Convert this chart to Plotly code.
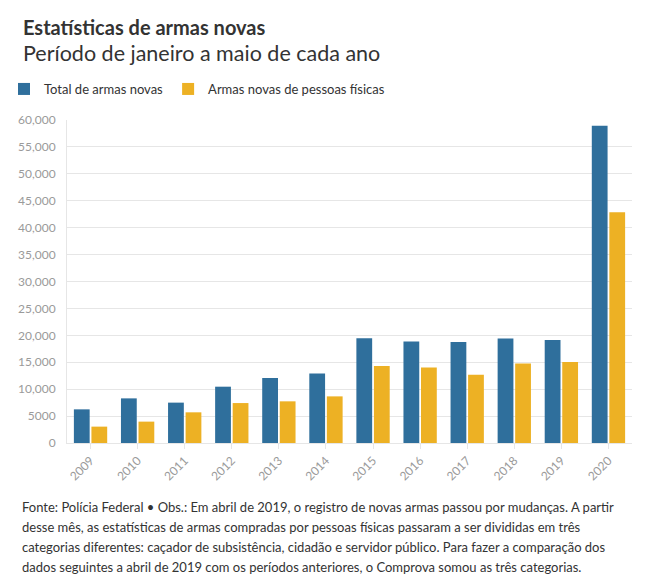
import plotly.graph_objects as go

years = ["2009", "2010", "2011", "2012", "2013", "2014", "2015", "2016", "2017", "2018", "2019", "2020"]
total_novas = [6250, 8290, 7500, 10460, 12060, 12930, 19480, 18870, 18740, 19420, 19110, 58940]
pessoas_fisicas = [3040, 3970, 5700, 7420, 7740, 8660, 14290, 14040, 12690, 14790, 15030, 42860]
tick_vals = [0, 5000, 10000, 15000, 20000, 25000, 30000, 35000, 40000, 45000, 50000, 55000, 60000]
tick_text = ["0", "5000", "10,000", "15,000", "20,000", "25,000", "30,000", "35,000",
             "40,000", "45,000", "50,000", "55,000", "60,000"]
foot_lines = [
    "Fonte: Polícia Federal • Obs.: Em abril de 2019, o registro de novas armas passou por mudanças. A partir",
    "desse mês, as estatísticas de armas compradas por pessoas físicas passaram a ser divididas em três",
    "categorias diferentes: caçador de subsistência, cidadão e servidor público. Para fazer a comparação dos",
    "dados seguintes a abril de 2019 com os períodos anteriores, o Comprova somou as três categorias.",
]

FONT = "Source Sans Pro, Lato, sans-serif"
BLUE = "#2f6f9c"
YELLOW = "#edb124"
W, H = 659, 586
ML, MR, MT, MB = 67, 27, 120, 143
PW, PH = W - ML - MR, H - MT - MB

fig = go.Figure()
fig.add_trace(go.Bar(x=years, y=total_novas, name="Total de armas novas",
                     marker=dict(color=BLUE, line=dict(width=0))))
fig.add_trace(go.Bar(x=years, y=pessoas_fisicas, name="Armas novas de pessoas físicas",
                     marker=dict(color=YELLOW, line=dict(width=0))))

fig.update_layout(
    width=W, height=H,
    margin=dict(l=ML, r=MR, t=MT, b=MB, autoexpand=False),
    paper_bgcolor="white", plot_bgcolor="white",
    font=dict(family=FONT, color="#333333"),
    barmode="group", bargap=0.255, bargroupgap=0.1,
    showlegend=True,
    legend=dict(orientation="h", x=4 / W, xref="container", y=1 - 89 / H, yref="container",
                yanchor="middle", xanchor="left",
                font=dict(size=13, color="#333333", family=FONT),
                itemwidth=30, traceorder="normal"),
    xaxis=dict(tickangle=-45, tickfont=dict(size=12, color="#9a9a9a", family=FONT),
               showgrid=False, showline=True, linecolor="#e6e6e6", ticks="outside",
               ticklen=5, tickcolor="#e6e6e6"),
    yaxis=dict(range=[0, 60000], tickvals=tick_vals, ticktext=tick_text,
               tickfont=dict(size=12, color="#9a9a9a", family=FONT),
               showgrid=True, gridcolor="#e6e6e6", gridwidth=1, zeroline=False,
               showline=True, linecolor="#e6e6e6", ticks="", ticklabelstandoff=8),
)

def px_x(x):
    return (x - ML) / PW

def px_y(y):
    return 1 + (MT - y) / PH

fig.add_annotation(text="<b>Estatísticas de armas novas</b>", xref="paper", yref="paper",
                   x=px_x(21), y=px_y(27), xanchor="left", yanchor="middle", showarrow=False,
                   font=dict(size=20, color="#333333", family=FONT))
fig.add_annotation(text="Período de janeiro a maio de cada ano", xref="paper", yref="paper",
                   x=px_x(21), y=px_y(53), xanchor="left", yanchor="middle", showarrow=False,
                   font=dict(size=21.5, color="#333333", family=FONT))

for i, line in enumerate(foot_lines):
    fig.add_annotation(text=line, xref="paper", yref="paper",
                       x=px_x(20), y=px_y(507 + 20 * i), xanchor="left", yanchor="middle",
                       showarrow=False, align="left",
                       font=dict(size=13, color="#333333", family=FONT))

fig.write_html("out.html")
